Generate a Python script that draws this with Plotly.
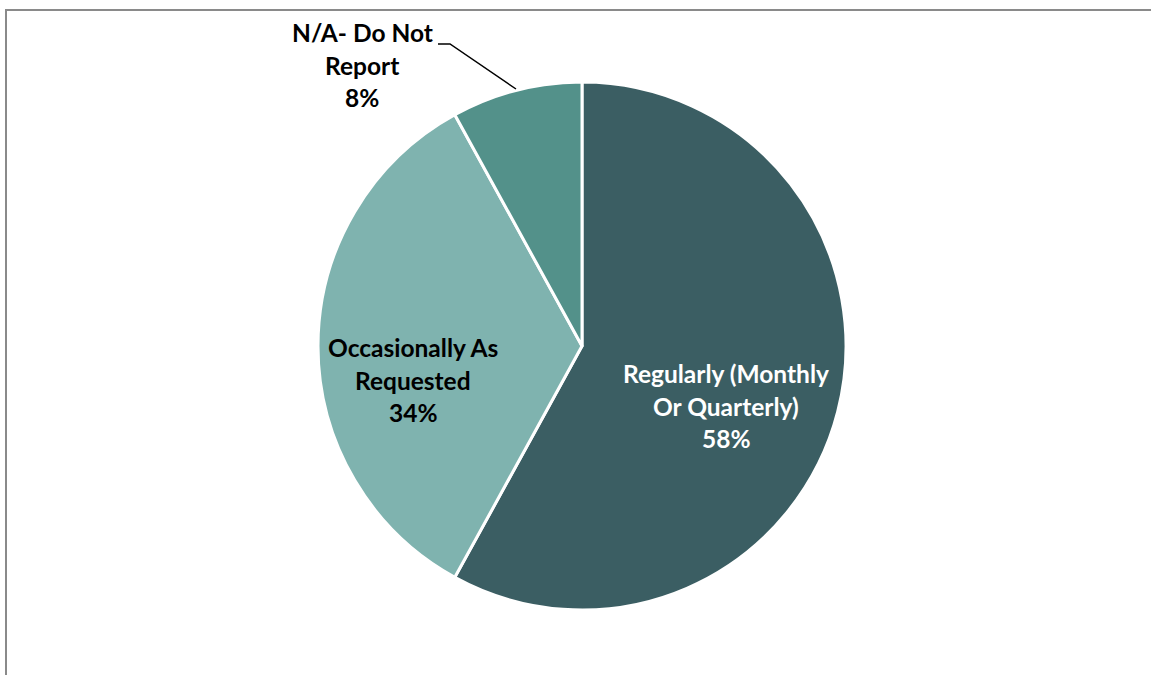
import plotly.graph_objects as go

# Reporting frequency shares
categories = ["Regularly (Monthly Or Quarterly)", "Occasionally As Requested", "N/A- Do Not Report"]
label_lines = [["Regularly (Monthly", "Or Quarterly)"], ["Occasionally As", "Requested"], ["N/A- Do Not", "Report"]]
shares = [58, 34, 8]
colors = ["#3B5E63", "#7FB3AF", "#53918A"]
text_colors = ["#FFFFFF", "#000000", "#000000"]

W, H = 1151, 675
FONT = "Lato"
FS = 24.5
LINE_H = 32.5


def px(x):
    return x / W


def py(y):
    return 1 - y / H


# pie occupies a square centred at (582, 346) with radius 264
cx, cy, r = 582, 346, 264

fig = go.Figure(
    go.Pie(
        labels=categories,
        values=shares,
        sort=False,
        direction="clockwise",
        rotation=0,
        marker=dict(colors=colors, line=dict(color="#FFFFFF", width=3)),
        textinfo="none",
        hoverinfo="label+percent",
        domain=dict(x=[px(cx - r), px(cx + r)], y=[py(cy + r), py(cy - r)]),
        showlegend=False,
    )
)

# label block centres (pixels)
label_centres = [(726, 406), (413, 380), (362, 65)]

annotations = []
for lines, val, col, (lx, ly) in zip(label_lines, shares, text_colors, label_centres):
    all_lines = lines + [f"{val}%"]
    n = len(all_lines)
    for i, t in enumerate(all_lines):
        y = ly + (i - (n - 1) / 2) * LINE_H
        annotations.append(
            dict(
                x=px(lx), y=py(y), xref="paper", yref="paper",
                text=f"<b>{t}</b>", showarrow=False,
                xanchor="center", yanchor="middle",
                font=dict(family=FONT, size=FS, color=col),
            )
        )

# leader line for the small slice, plus the frame edges
shapes = [
    dict(type="path", xref="paper", yref="paper",
         path=f"M {px(438)} {py(44)} L {px(450)} {py(44)} L {px(516)} {py(89)}",
         line=dict(color="#000000", width=1.5)),
    dict(type="line", xref="paper", yref="paper",
         x0=px(5), x1=1, y0=py(10), y1=py(10),
         line=dict(color="#8A8A8A", width=2)),
    dict(type="line", xref="paper", yref="paper",
         x0=px(6), x1=px(6), y0=py(9), y1=0,
         line=dict(color="#8A8A8A", width=2)),
]

fig.update_layout(
    width=W, height=H,
    margin=dict(l=0, r=0, t=0, b=0),
    paper_bgcolor="#FFFFFF",
    plot_bgcolor="#FFFFFF",
    annotations=annotations,
    shapes=shapes,
)

fig.write_html("out.html")
